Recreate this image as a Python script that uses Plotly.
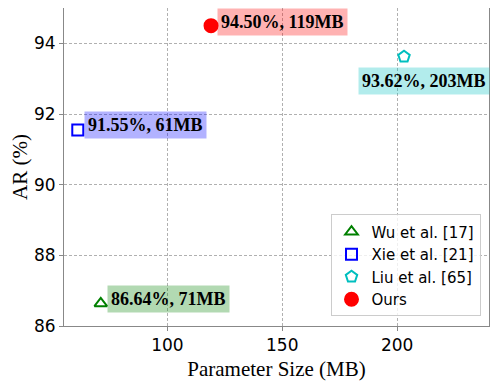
import plotly.graph_objects as go

# data
methods = ["Wu et al. [17]", "Xie et al. [21]", "Liu et al. [65]", "Ours"]
param_size = [71, 61, 203, 119]
ar_values = [86.64, 91.55, 93.62, 94.50]
labels = ["86.64%, 71MB", "91.55%, 61MB", "93.62%, 203MB", "94.50%, 119MB"]

symbols = ["triangle-up-open", "square-open", "pentagon-open", "circle"]
colors = ["#008000", "#0000ff", "#00bfbf", "#ff0000"]
box_colors = ["rgba(0,128,0,0.3)", "rgba(0,0,255,0.3)",
              "rgba(0,191,191,0.3)", "rgba(255,0,0,0.3)"]
sizes = [11, 11, 12, 13]
# label offsets (xanchor, xshift, yshift)
offsets = [("left", 6, 4), ("left", 6, 5), ("center", 20, -24), ("left", 6, 4)]

fig = go.Figure()

for i, name in enumerate(methods):
    fig.add_trace(
        go.Scatter(
            x=[param_size[i]],
            y=[ar_values[i]],
            mode="markers",
            name=name,
            marker=dict(
                symbol=symbols[i],
                size=sizes[i],
                color=colors[i],
                line=dict(width=2, color=colors[i]),
            ),
        )
    )
    anchor, dx, dy = offsets[i]
    fig.add_annotation(
        x=param_size[i],
        y=ar_values[i],
        text="<b>" + labels[i] + "</b>",
        showarrow=False,
        xanchor=anchor,
        yanchor="middle",
        xshift=dx,
        yshift=dy,
        bgcolor=box_colors[i],
        borderpad=3,
        font=dict(family="Liberation Serif", size=18, color="black"),
    )

axis_style = dict(
    showline=True,
    linecolor="#888888",
    linewidth=1,
    mirror=True,
    showgrid=True,
    gridcolor="#b0b0b0",
    griddash="3px,2px",
    gridwidth=1,
    ticks="outside",
    ticklen=4,
    tickcolor="#888888",
    zeroline=False,
    automargin=False,
    tickfont=dict(family="DejaVu Sans", size=17, color="black"),
)

fig.update_xaxes(
    range=[55, 240],
    tickvals=[100, 150, 200],
    title=dict(text="Parameter Size (MB)", standoff=6,
               font=dict(family="Liberation Serif", size=21, color="black")),
    **axis_style,
)
fig.update_yaxes(
    range=[86, 95],
    tickvals=[86, 88, 90, 92, 94],
    title=dict(text="AR (%)", standoff=6,
               font=dict(family="Liberation Serif", size=21, color="black")),
    **axis_style,
)

# the page body adds an 8px margin, so the figure is sized to fit inside it
fig.update_layout(
    width=490,
    height=376,
    margin=dict(l=56, r=9, t=0, b=58),
    plot_bgcolor="white",
    paper_bgcolor="white",
    legend=dict(
        x=0.98,
        y=0.03,
        xanchor="right",
        yanchor="bottom",
        bgcolor="rgba(255,255,255,0.8)",
        bordercolor="#cccccc",
        borderwidth=1,
        font=dict(family="DejaVu Sans", size=15, color="black"),
        itemsizing="trace",
        tracegroupgap=0,
    ),
)

fig.write_html("out.html")
